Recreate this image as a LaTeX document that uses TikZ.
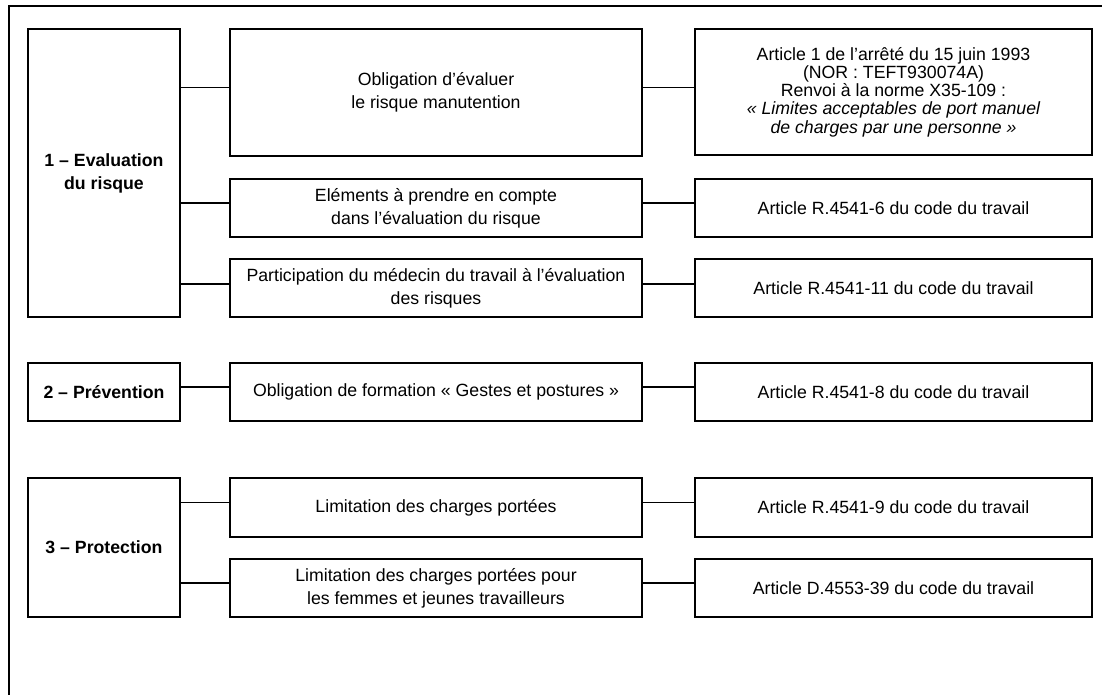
\documentclass[tikz,border=0pt]{standalone}
\usepackage{fontspec}
\setmainfont{Liberation Sans}
\begin{document}
\begin{tikzpicture}[x=1pt,y=-1pt,
  box/.style={draw, line width=1.6pt, inner sep=0pt, outer sep=0pt,
    align=center, anchor=north west,
    font=\fontsize{17.7}{23}\selectfont},
  head/.style={box, font=\fontsize{17.7}{23}\selectfont\bfseries},
  wire/.style={line width=1.6pt},
]
\useasboundingbox (0,0) rectangle (1102,695);

% open frame: only the top and left edges
\draw[wire] (9,695) -- (9,6) -- (1102,6);

% themes
\node[head, minimum width=152, minimum height=288] (g1) at (28,29)
  {1 -- Evaluation\\du risque};
\node[head, minimum width=152, minimum height=58] (g2) at (28,363)
  {2 -- Prévention};
\node[head, minimum width=152, minimum height=139] (g3) at (28,478)
  {3 -- Protection};

% obligations
\node[box, minimum width=412, minimum height=127] (m1) at (230,29)
  {Obligation d’évaluer\\le risque manutention};
\node[box, minimum width=412, minimum height=58] (m2) at (230,179)
  {Eléments à prendre en compte\\dans l’évaluation du risque};
\node[box, minimum width=412, minimum height=58] (m3) at (230,259)
  {Participation du médecin du travail à l’évaluation\\des risques};
\node[box, minimum width=412, minimum height=58] (m4) at (230,363)
  {Obligation de formation « Gestes et postures »};
\node[box, minimum width=412, minimum height=59] (m5) at (230,478)
  {Limitation des charges portées};
\node[box, minimum width=412, minimum height=58] (m6) at (230,559)
  {Limitation des charges portées pour\\les femmes et jeunes travailleurs};

% legal references
\node[box, minimum width=397, minimum height=126,
  font=\fontsize{17.7}{18.2}\selectfont] (r1) at (695,29)
  {Article 1 de l’arrêté du 15 juin 1993\\(NOR : TEFT930074A)\\Renvoi à la norme X35-109 :\\
   \itshape « Limites acceptables de port manuel\\\itshape de charges par une personne »};
\node[box, minimum width=397, minimum height=58] (r2) at (695,179)
  {Article R.4541-6 du code du travail};
\node[box, minimum width=397, minimum height=58] (r3) at (695,259)
  {Article R.4541-11 du code du travail};
\node[box, minimum width=397, minimum height=58] (r4) at (695,363)
  {Article R.4541-8 du code du travail};
\node[box, minimum width=397, minimum height=59] (r5) at (695,478)
  {Article R.4541-9 du code du travail};
\node[box, minimum width=397, minimum height=58] (r6) at (695,559)
  {Article D.4553-39 du code du travail};

% theme -> obligation
\draw[wire] ([yshift=5pt]g1.east |- m1.west) -- ([yshift=5pt]m1.west);
\draw[wire] ([yshift=5pt]g1.east |- m2.west) -- ([yshift=5pt]m2.west);
\draw[wire] ([yshift=4pt]g1.east |- m3.west) -- ([yshift=4pt]m3.west);
\draw[wire] ([yshift=5pt]g2.east) -- ([yshift=5pt]m4.west);
\draw[wire] ([yshift=5pt]g3.east |- m5.west) -- ([yshift=5pt]m5.west);
\draw[wire] ([yshift=5pt]g3.east |- m6.west) -- ([yshift=5pt]m6.west);

% obligation -> reference
\draw[wire] ([yshift=5pt]m1.east) -- ([yshift=5pt]m1.east -| r1.west);
\draw[wire] ([yshift=5pt]m2.east) -- ([yshift=5pt]r2.west);
\draw[wire] ([yshift=4pt]m3.east) -- ([yshift=4pt]r3.west);
\draw[wire] ([yshift=5pt]m4.east) -- ([yshift=5pt]r4.west);
\draw[wire] ([yshift=5pt]m5.east) -- ([yshift=5pt]r5.west);
\draw[wire] ([yshift=5pt]m6.east) -- ([yshift=5pt]r6.west);
\end{tikzpicture}
\end{document}
